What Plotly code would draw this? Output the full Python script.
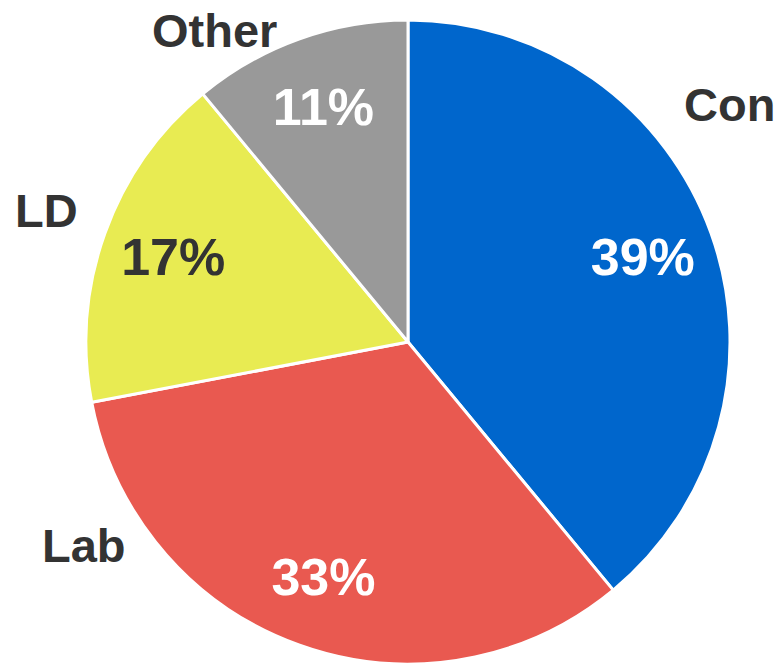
import plotly.graph_objects as go

labels = ["Con", "Lab", "LD", "Other"]
values = [39, 33, 17, 11]
colors = ["#0066cc", "#e95950", "#e8eb52", "#999999"]
text_colors = ["#ffffff", "#ffffff", "#333333", "#ffffff"]

# category label placements (pixel centres in the 777x664 page)
label_pos = [(729, 105), (84, 545), (46, 211), (214, 30)]

W, H = 777, 664
FONT = "Liberation Sans, Arial, sans-serif"
dom = dict(x=[39 / W, 1], y=[0, 1 - 20 / H])

fig = go.Figure()
# coloured slices
fig.add_trace(go.Pie(
    labels=labels,
    values=values,
    sort=False,
    direction="clockwise",
    rotation=0,
    marker=dict(colors=colors, line=dict(color="white", width=3)),
    textinfo="none",
    domain=dom,
    showlegend=False,
    hoverinfo="label+percent",
))
# transparent ring carrying the percentage labels
fig.add_trace(go.Pie(
    labels=labels,
    values=values,
    sort=False,
    direction="clockwise",
    rotation=0,
    hole=0.55,
    marker=dict(colors=["rgba(0,0,0,0)"] * len(labels), line=dict(width=0)),
    textinfo="percent",
    texttemplate="%{percent:.0%}",
    textposition="inside",
    insidetextorientation="horizontal",
    textfont=dict(family=FONT, size=52, color=text_colors, weight="bold"),
    domain=dom,
    showlegend=False,
    hoverinfo="skip",
))

for lab, (px, py) in zip(labels, label_pos):
    fig.add_annotation(
        x=px / W, y=1 - py / H, xref="paper", yref="paper",
        text=f"<b>{lab}</b>", showarrow=False,
        xanchor="center", yanchor="middle",
        font=dict(family=FONT, size=47, color="#333333"),
    )

fig.update_layout(
    width=W, height=H,
    margin=dict(l=0, r=0, t=0, b=0),
    paper_bgcolor="white",
    plot_bgcolor="white",
    uniformtext=dict(minsize=52, mode="show"),
)

fig.write_html("out.html", config={"displayModeBar": False},
               post_script="document.body.style.margin='0px';")
